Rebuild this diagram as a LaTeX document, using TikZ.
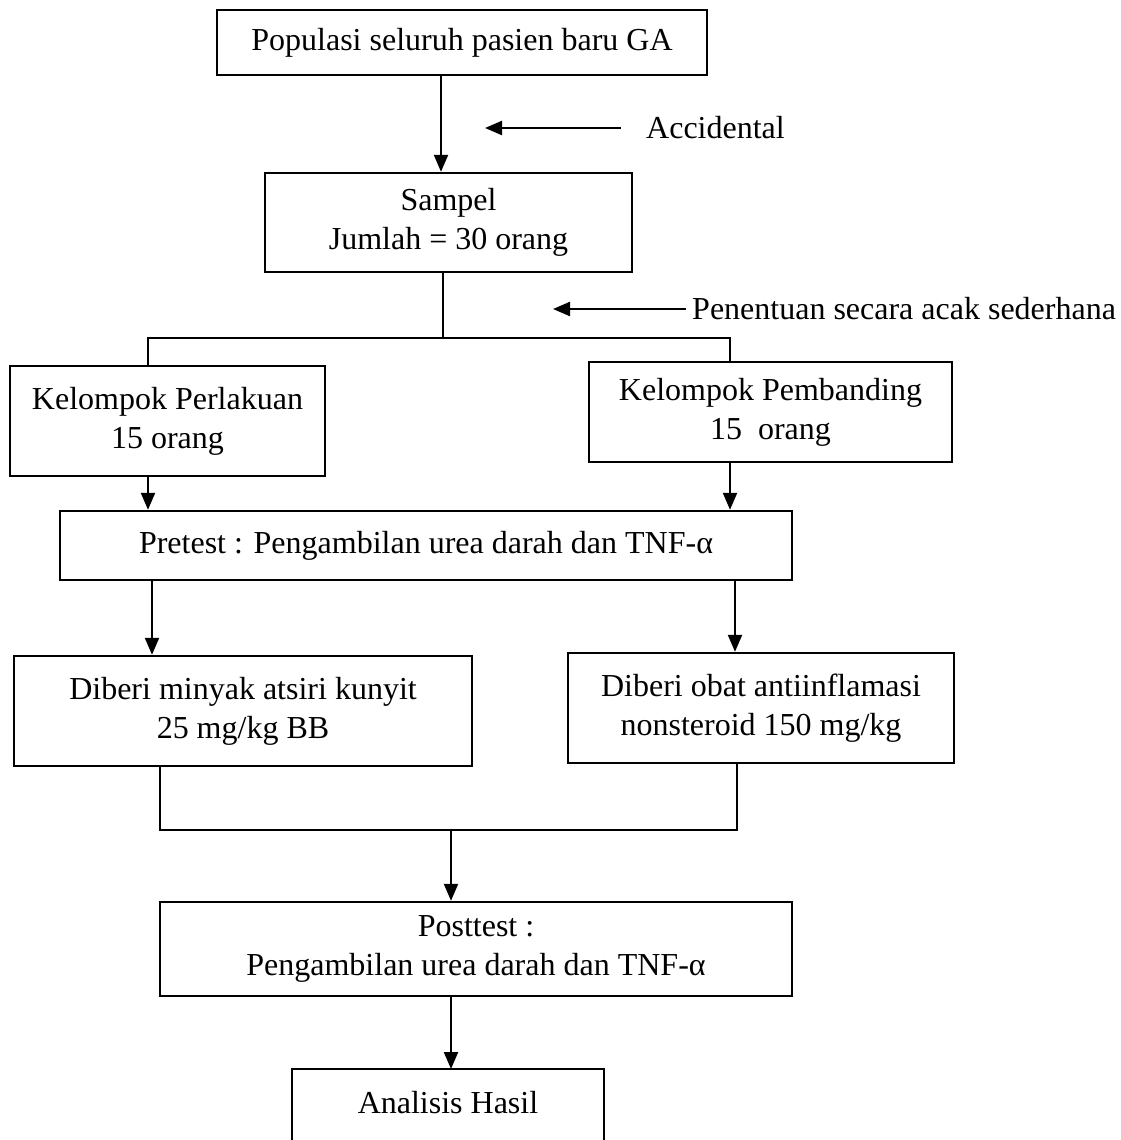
\documentclass[tikz,border=0pt]{standalone}
\usepackage{fontspec}
\setmainfont{Liberation Serif}
\usetikzlibrary{arrows.meta,calc}
\begin{document}
\begin{tikzpicture}[x=1pt,y=-1pt,
  box/.style={draw,line width=2.4pt,align=center,inner sep=0pt,font=\fontsize{32}{39}\selectfont},
  lbl/.style={font=\fontsize{32}{39}\selectfont,inner sep=0pt},
  ln/.style={line width=2.2pt},
  arr/.style={line width=2.2pt,-{Triangle[length=17pt,width=14pt]}}]
\useasboundingbox[fill=white] (0,0) rectangle (1121,1140);

% boxes
\node[box,minimum width=490pt,minimum height=65pt] (pop) at (462,42.5) {Populasi seluruh pasien baru GA};
\node[box,minimum width=367pt,minimum height=99pt] (smp) at (448.5,222.5) {Sampel\\Jumlah = 30 orang};
\node[box,minimum width=315pt,minimum height=110pt] (kp) at (167.5,421) {Kelompok Perlakuan\\15 orang};
\node[box,minimum width=363pt,minimum height=100pt] (kb) at (770.5,412) {Kelompok Pembanding\\15~~orang};
\node[box,minimum width=732pt,minimum height=69pt] (pre) at (426,545.5) {Pretest : Pengambilan urea darah dan TNF-α};
\node[box,minimum width=458pt,minimum height=110pt] (d1) at (243,711) {Diberi minyak atsiri kunyit\\25 mg/kg BB};
\node[box,minimum width=386pt,minimum height=110pt] (d2) at (761,708) {Diberi obat antiinflamasi\\nonsteroid 150 mg/kg};
\node[box,minimum width=632pt,minimum height=94pt] (post) at (476,949) {Posttest :\\Pengambilan urea darah dan TNF-α};
\node[lbl] (ana) at (448,1103) {Analisis Hasil};
\coordinate (anaTL) at (292,1069);
\coordinate (anaTR) at (604,1069);
\coordinate (anaBL) at (292,1142);
\coordinate (anaBR) at (604,1142);
\draw[line width=2.4pt] (anaBL) -- (anaTL) -- (anaTR) -- (anaBR);

% side labels
\node[lbl,anchor=west] (acc) at (646,128) {Accidental};
\coordinate (accTip) at (485,128);
\draw[arr] ([xshift=-25pt]acc.west) -- (accTip);
\node[lbl,anchor=west] (pen) at (692,309) {Penentuan secara acak sederhana};
\coordinate (penTip) at (553,309);
\draw[arr] ([xshift=-6pt]pen.west) -- (penTip);

% connectors
\coordinate (a1) at (441,0);
\draw[arr] (pop.south -| a1) -- (smp.north -| a1);
\coordinate (split) at (443,338);
\coordinate (jl) at (148,338);
\coordinate (jr) at (730,338);
\draw[ln] (smp.south -| split) -- (split);
\draw[ln] (kp.north -| jl) -- (jl) -- (jr) -- (kb.north -| jr);
\draw[arr] (kp.south -| jl) -- (pre.north -| jl);
\draw[arr] (kb.south -| jr) -- (pre.north -| jr);
\coordinate (pl) at (152,0);
\coordinate (pr) at (735,0);
\draw[arr] (pre.south -| pl) -- (d1.north -| pl);
\draw[arr] (pre.south -| pr) -- (d2.north -| pr);
\coordinate (ml) at (160,830);
\coordinate (mr) at (737,830);
\coordinate (mm) at (451,830);
\draw[ln] (d1.south -| ml) -- (ml) -- (mr) -- (d2.south -| mr);
\draw[arr] (mm) -- (post.north -| mm);
\draw[arr] (post.south -| mm) -- (anaTL -| mm);
\end{tikzpicture}
\end{document}
